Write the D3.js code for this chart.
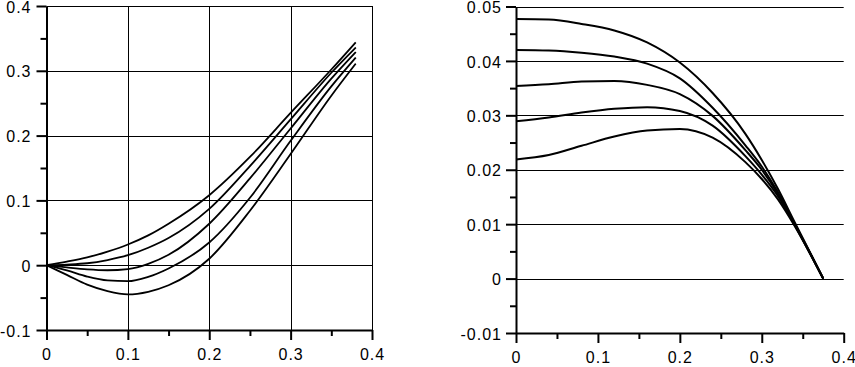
<!DOCTYPE html>
<html>
<head>
<meta charset="utf-8">
<script src="https://cdn.jsdelivr.net/npm/d3@7"></script>
<style>
  html, body { margin: 0; padding: 0; background: #fff; }
  svg { display: block; }
  text { font-family: "Liberation Sans", Arial, sans-serif; font-size: 16px; letter-spacing: 1px; fill: #000; }
</style>
</head>
<body>
<svg id="chart" width="855" height="367"></svg>
<script>
// ---------- data ----------
const xTickValues = [0, 0.1, 0.2, 0.3, 0.4];
const xTickLabels = ["0", "0.1", "0.2", "0.3", "0.4"];
const xMinorTicks = [0.05, 0.15, 0.25, 0.35];

const leftYTickValues = [-0.1, 0, 0.1, 0.2, 0.3, 0.4];
const leftYTickLabels = ["-0.1", "0", "0.1", "0.2", "0.3", "0.4"];
const leftYMinorTicks = [-0.05, 0.05, 0.15, 0.25, 0.35];

const rightYTickValues = [-0.01, 0, 0.01, 0.02, 0.03, 0.04, 0.05];
const rightYTickLabels = ["-0.01", "0", "0.01", "0.02", "0.03", "0.04", "0.05"];
const rightYMinorTicks = [-0.005, 0.005, 0.015, 0.025, 0.035, 0.045];

// left panel: five curves
const leftX = [0, 0.025, 0.05, 0.075, 0.1, 0.125, 0.15, 0.2, 0.25, 0.3, 0.35, 0.38];
const leftCurve1 = [0, 0.0055, 0.012, 0.021, 0.032, 0.046, 0.064, 0.108, 0.167, 0.235, 0.302, 0.344];
const leftCurve2 = [0, 0.001, 0.003, 0.008, 0.0154, 0.027, 0.042, 0.087, 0.153, 0.225, 0.297, 0.336];
const leftCurve3 = [0, -0.0035, -0.0065, -0.0078, -0.006, 0.002, 0.016, 0.064, 0.134, 0.211, 0.288, 0.329];
const leftCurve4 = [0, -0.008, -0.0175, -0.0235, -0.0247, -0.018, -0.005, 0.035, 0.104, 0.192, 0.276, 0.3205];
const leftCurve5 = [0, -0.015, -0.030, -0.040, -0.045, -0.041, -0.031, 0.010, 0.084, 0.1715, 0.2615, 0.311];

// right panel: five curves
const rightX = [0, 0.04, 0.08, 0.12, 0.16, 0.2, 0.24, 0.28, 0.3, 0.32, 0.34, 0.36, 0.375];
const rightCurve1 = [0.0477, 0.0476, 0.0468, 0.0456, 0.0434, 0.0397, 0.0341, 0.0266, 0.0218, 0.0164, 0.0104, 0.0045, 0];
const rightCurve2 = [0.0420, 0.0419, 0.0415, 0.0408, 0.0395, 0.0368, 0.0314, 0.0245, 0.0206, 0.0158, 0.0101, 0.0044, 0];
const rightCurve3 = [0.0354, 0.0357, 0.0362, 0.0363, 0.0356, 0.0339, 0.0299, 0.0236, 0.0200, 0.0155, 0.0100, 0.0044, 0];
const rightCurve4 = [0.0289, 0.0296, 0.0305, 0.0312, 0.0315, 0.0308, 0.0281, 0.0225, 0.0191, 0.0151, 0.0099, 0.0043, 0];
const rightCurve5 = [0.0219, 0.0227, 0.0244, 0.0261, 0.0272, 0.0275, 0.0259, 0.0214, 0.0183, 0.0145, 0.0097, 0.0043, 0];

// ---------- drawing ----------
const svg = d3.select("#chart");
svg.append("rect").attr("width", 855).attr("height", 367).attr("fill", "#fff");

function panel(cfg) {
  const x = d3.scaleLinear().domain([0, 0.4]).range(cfg.xRange);
  const y = d3.scaleLinear().domain(cfg.yDomain).range(cfg.yRange);
  const g = svg.append("g");

  // grid
  g.selectAll(".hgrid").data(cfg.hGrid).join("line")
    .attr("x1", x(0)).attr("x2", x(0.4))
    .attr("y1", d => Math.round(y(d)) + 0.5).attr("y2", d => Math.round(y(d)) + 0.5)
    .attr("stroke", "#000").attr("stroke-width", 1);
  g.selectAll(".vgrid").data(cfg.vGrid).join("line")
    .attr("x1", d => Math.round(x(d)) + 0.5).attr("x2", d => Math.round(x(d)) + 0.5)
    .attr("y1", y(cfg.yDomain[1])).attr("y2", y(cfg.yDomain[0]))
    .attr("stroke", "#000").attr("stroke-width", 1);

  // curves
  const line = d3.line()
    .x(d => x(d[0])).y(d => y(d[1]))
    .curve(d3.curveMonotoneX);
  cfg.series.forEach(s => {
    g.append("path")
      .datum(cfg.xs.map((v, i) => [v, s[i]]))
      .attr("d", line)
      .attr("fill", "none")
      .attr("stroke", "#000")
      .attr("stroke-width", cfg.curveWidth)
      .attr("stroke-linejoin", "round");
  });

  const y0 = y(cfg.yDomain[0]);
  const x0 = x(0);

  // minor ticks
  g.append("g").attr("transform", `translate(0,${y0})`)
    .call(d3.axisBottom(x).tickValues(xMinorTicks).tickSize(6).tickSizeOuter(0).tickFormat(""))
    .call(a => a.select(".domain").remove())
    .call(a => a.selectAll("line").attr("stroke-width", 2));
  g.append("g").attr("transform", `translate(${x0},0)`)
    .call(d3.axisLeft(y).tickValues(cfg.yMinor).tickSize(6).tickSizeOuter(0).tickFormat(""))
    .call(a => a.select(".domain").remove())
    .call(a => a.selectAll("line").attr("stroke-width", 2));

  // major axes
  const ax = g.append("g").attr("transform", `translate(0,${y0})`)
    .call(d3.axisBottom(x).tickValues(xTickValues).tickSize(10).tickSizeOuter(0).tickPadding(9)
      .tickFormat((d, i) => xTickLabels[i]));
  const ay = g.append("g").attr("transform", `translate(${x0},0)`)
    .call(d3.axisLeft(y).tickValues(cfg.yTicks).tickSize(10).tickSizeOuter(0).tickPadding(cfg.yPad)
      .tickFormat((d, i) => cfg.yLabels[i]));
  [ax, ay].forEach(a => {
    a.attr("font-family", null).attr("font-size", null);
    a.select(".domain").attr("stroke-width", 2).attr("stroke", "#000");
    a.selectAll(".tick line").attr("stroke-width", 2).attr("stroke", "#000");
    a.selectAll("text").attr("fill", "#000");
  });
  ay.selectAll("text").attr("dy", "0.38em");
}

panel({
  xRange: [46.5, 372],
  yDomain: [-0.1, 0.4],
  yRange: [330, 6],
  yTicks: leftYTickValues,
  yLabels: leftYTickLabels,
  yMinor: leftYMinorTicks,
  yPad: 5,
  hGrid: [0, 0.1, 0.2, 0.3, 0.4],
  vGrid: [0.1, 0.2, 0.3, 0.4],
  xs: leftX,
  series: [leftCurve1, leftCurve2, leftCurve3, leftCurve4, leftCurve5],
  curveWidth: 1.8
});

panel({
  xRange: [516, 843.7],
  yDomain: [-0.01, 0.05],
  yRange: [333, 6.5],
  yTicks: rightYTickValues,
  yLabels: rightYTickLabels,
  yMinor: rightYMinorTicks,
  yPad: 4,
  hGrid: [0, 0.01, 0.02, 0.03, 0.04, 0.05],
  vGrid: [],
  xs: rightX,
  series: [rightCurve1, rightCurve2, rightCurve3, rightCurve4, rightCurve5],
  curveWidth: 2
});
</script>
</body>
</html>
